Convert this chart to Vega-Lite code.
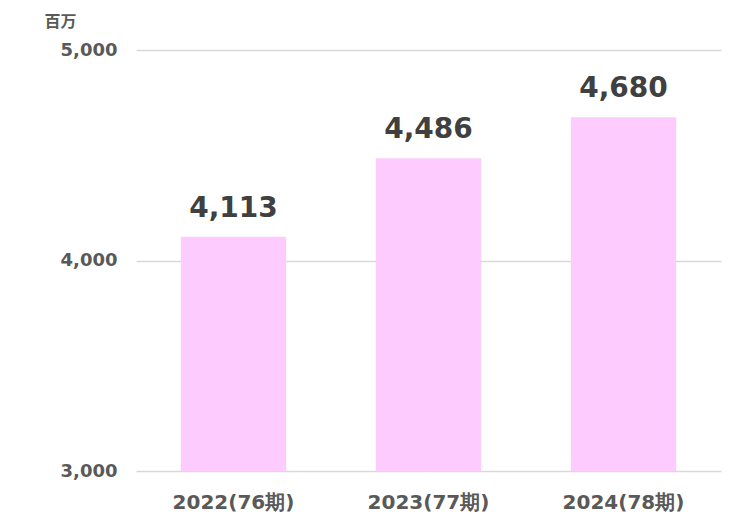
{
  "$schema": "https://vega.github.io/schema/vega-lite/v6.json",
  "autosize": "none",
  "width": 585,
  "height": 421,
  "padding": {"left": 136, "top": 50, "right": 24, "bottom": 54},
  "background": "white",
  "data": {
    "values": [
      {"period": "2022(76期)", "value": 4113},
      {"period": "2023(77期)", "value": 4486},
      {"period": "2024(78期)", "value": 4680}
    ]
  },
  "encoding": {
    "x": {
      "field": "period",
      "type": "nominal",
      "sort": null,
      "scale": {"paddingInner": 0.46, "paddingOuter": 0.23},
      "axis": {
        "title": null,
        "labelAngle": 0,
        "ticks": false,
        "domain": false,
        "labelPadding": 21,
        "labelFontSize": 20,
        "labelFontWeight": "bold",
        "labelColor": "#595959",
        "labelFont": "DejaVu Sans"
      }
    }
  },
  "layer": [
    {
      "mark": {"type": "bar", "color": "#FDCBFD"},
      "encoding": {
        "y": {
          "field": "value",
          "type": "quantitative",
          "scale": {"domain": [3000, 5000], "zero": false},
          "axis": {
            "values": [3000, 4000, 5000],
            "format": ",.0f",
            "ticks": false,
            "domain": false,
            "labelPadding": 19,
            "labelFontSize": 18,
            "labelFontWeight": "bold",
            "labelColor": "#595959",
            "labelFont": "DejaVu Sans",
            "gridColor": "#d9d9d9",
            "gridWidth": 1.5,
            "title": "百万",
            "titleAngle": 0,
            "titleAlign": "left",
            "titleBaseline": "middle",
            "titleX": -92,
            "titleY": -29,
            "titleFontSize": 16,
            "titleFontWeight": "bold",
            "titleColor": "#595959",
            "titleFont": "Noto Sans CJK JP"
          }
        },
        "y2": {"datum": 3000}
      }
    },
    {
      "mark": {
        "type": "text",
        "baseline": "bottom",
        "dy": -14,
        "fontSize": 28,
        "fontWeight": "bold",
        "color": "#404040",
        "font": "DejaVu Sans"
      },
      "encoding": {
        "y": {"field": "value", "type": "quantitative"},
        "text": {"field": "value", "type": "quantitative", "format": ","}
      }
    }
  ],
  "config": {
    "view": {"stroke": null},
    "axisX": {"grid": false}
  }
}
